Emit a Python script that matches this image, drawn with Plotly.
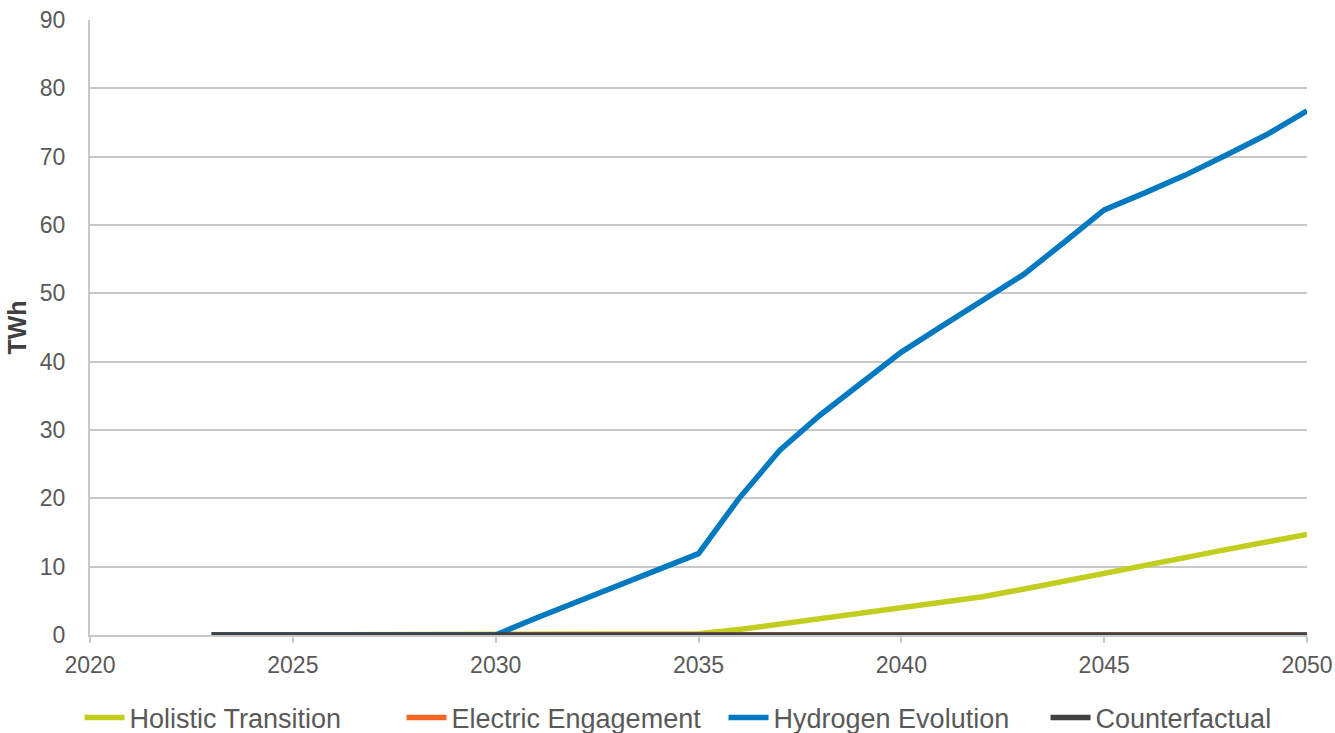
import plotly.graph_objects as go

years = list(range(2023, 2051))
holistic = [0, 0, 0, 0, 0, 0, 0, 0, 0.05, 0.08, 0.1, 0.15, 0.2,
            0.8, 1.6, 2.4, 3.1, 3.8, 4.6, 5.6, 6.7, 7.9, 9.1, 10.2, 11.4, 12.5, 13.6, 14.7]
electric = [0] * 28
hydrogen = [0, 0, 0, 0, 0, 0, 0, 0, 2.5, 4.9, 7.2, 9.5, 11.9,
            20.0, 27.0, 32.2, 36.9, 41.4, 45.2, 49.0, 52.7, 57.4, 62.2, 64.7, 67.3, 70.2, 73.2, 76.7]
counterfactual = [0] * 28

names = ["Holistic Transition", "Electric Engagement", "Hydrogen Evolution", "Counterfactual"]
colors = ["#c3cd20", "#f26522", "#0079c1", "#414141"]
series = [holistic, electric, hydrogen, counterfactual]

fig = go.Figure()
for n, c, s in zip(names, colors, series):
    fig.add_trace(go.Scatter(x=years, y=s, name=n, mode="lines",
                             line=dict(color=c, width=5.5), cliponaxis=False))

fig.update_layout(
    width=1335, height=733,
    margin=dict(l=90, r=28, t=20, b=98, autoexpand=False),
    plot_bgcolor="white", paper_bgcolor="white",
    font=dict(family="Liberation Sans, Arial, sans-serif", size=23, color="#595959"),
    xaxis=dict(range=[2020, 2050], tickvals=[2020, 2025, 2030, 2035, 2040, 2045, 2050],
               showgrid=False, showline=True, linecolor="#c8c8c8", linewidth=2,
               ticks="outside", ticklen=6, tickcolor="#c8c8c8", tickwidth=1.5,
               zeroline=False, automargin=False, ticklabelstandoff=2,
               ticklabeloverflow="allow",
               tickfont=dict(size=23, color="#595959")),
    yaxis=dict(range=[0, 90], dtick=10, showgrid=True, gridcolor="#c8c8c8", gridwidth=1.5,
               showline=True, linecolor="#c8c8c8", linewidth=2, zeroline=False,
               ticks="", ticklabelstandoff=18, automargin=False,
               ticklabeloverflow="allow",
               title=dict(text="<b>TWh</b>", font=dict(size=25, color="#404040"), standoff=6),
               tickfont=dict(size=23, color="#595959")),
    legend=dict(orientation="h", x=-0.0086, xanchor="left", y=-0.135, yanchor="middle",
                font=dict(size=27, color="#595959"), itemwidth=40,
                entrywidth=267, entrywidthmode="pixels"),
    showlegend=True,
)

fig.write_html(
    "out.html",
    config={"displayModeBar": False},
    post_script="document.body.style.margin='0';document.body.style.overflow='hidden';",
)
